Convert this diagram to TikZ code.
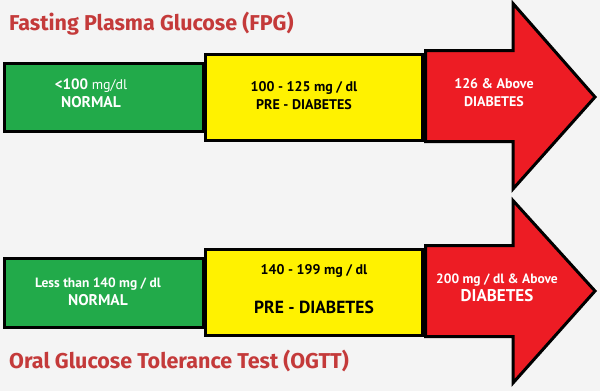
\documentclass[tikz,border=0pt]{standalone}
\usepackage{fontspec}
\setsansfont{PT Sans}
\newfontfamily\titlefont{Fira Sans}
\usepackage{tikz}
\definecolor{bggray}{RGB}{244,244,244}
\definecolor{normgreen}{RGB}{34,170,74}
\definecolor{preyellow}{RGB}{255,242,0}
\definecolor{diared}{RGB}{237,28,36}
\definecolor{titlered}{RGB}{196,58,58}

\begin{document}
\begin{tikzpicture}[x=1pt,y=-1pt,
    band/.style={draw,line width=3pt,inner sep=0pt},
    redarrow/.style={draw,line width=3pt,fill=diared,miter limit=10},
    btext/.style={font=\sffamily\bfseries\fontsize{14}{18}\selectfont,align=center,inner sep=0pt},
    ttext/.style={font=\titlefont\bfseries\fontsize{21.5}{24}\selectfont,text=titlered,anchor=west,inner sep=0pt}]
    \useasboundingbox[fill=bggray] (0,0) rectangle (600,391);

    \node[ttext] (fpg) at (9,24) {Fasting Plasma Glucose (FPG)};
    \node[band,fill=normgreen,minimum width=199pt,minimum height=68pt] (fpgnorm) at (104,97.5) {};
    \node[band,fill=preyellow,minimum width=217pt,minimum height=86pt] (fpgpre) at (314,97.5) {};
    \draw[redarrow] (425.5,50.5) -- (513,50.5) -- (513,3.5) -- (595,97) -- (513,189) -- (513,141.5) -- (425.5,141.5) -- cycle;
    \coordinate (fpgdia) at (494,93);

    \node[btext,text=white] (fpgnormtxt) at ([xshift=-13pt,yshift=4pt]fpgnorm.center) {{\fontsize{15}{18}\selectfont <100} {\mdseries mg/dl}\\ {\fontsize{15.5}{18}\selectfont NORMAL}};
    \node[btext] (fpgpretxt) at ([xshift=-10pt,yshift=2pt]fpgpre.center) {100 - 125 mg / dl\\ PRE - DIABETES};
    \node[btext,text=white] (fpgdiatxt) at (fpgdia) {126 \& Above\\ DIABETES};

    \node[band,fill=normgreen,minimum width=199pt,minimum height=69pt] (ogttnorm) at (104,293) {};
    \node[band,fill=preyellow,minimum width=217pt,minimum height=86pt] (ogttpre) at (314,292.5) {};
    \draw[redarrow] (425.5,245.5) -- (513,245.5) -- (513,200.5) -- (595,291) -- (513,383) -- (513,336.5) -- (425.5,336.5) -- cycle;
    \coordinate (ogttdia) at (497,288);

    \node[btext,text=white] (ogttnormtxt) at ([xshift=-6pt,yshift=1pt]ogttnorm.center) {{\fontsize{13.5}{18}\selectfont Less than 140 mg / dl}\\ {\fontsize{15.5}{18}\selectfont NORMAL}};
    \node[btext,font=\sffamily\bfseries\fontsize{17.5}{18}\selectfont] (ogttpretxt) at ([xshift=0pt,yshift=3pt]ogttpre.center) {{\fontsize{14}{18}\selectfont 140 - 199 mg / dl}\\[21pt] PRE - DIABETES};
    \node[btext,text=white] (ogttdiatxt) at (ogttdia) {{\fontsize{13.5}{18}\selectfont 200 mg / dl \& Above}\\ {\fontsize{17}{18}\selectfont DIABETES}};
    \node[ttext] (ogtt) at (9,361) {Oral Glucose Tolerance Test (OGTT)};
\end{tikzpicture}
\end{document}
